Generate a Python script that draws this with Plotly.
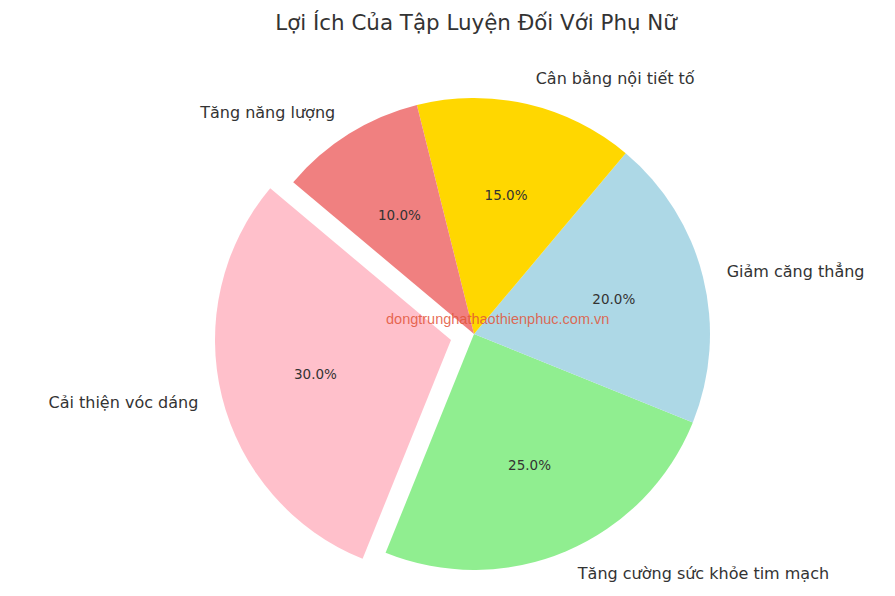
import plotly.graph_objects as go

labels = ["Cải thiện vóc dáng", "Tăng cường sức khỏe tim mạch", "Giảm căng thẳng",
          "Cân bằng nội tiết tố", "Tăng năng lượng"]
values = [30, 25, 20, 15, 10]
colors = ["#FFC0CB", "#90EE90", "#ADD8E6", "#FFD700", "#F08080"]
exploded = [True, False, False, False, False]

# ---- layout / style settings (not data) ----
W, H = 895, 596
R = 236            # pie radius, px
CX, CY = 466, 326  # pie centre, px (page coordinates minus body margin)
OFF = (-23, 6)     # offset of the exploded slice, px
LABEL_EXTRA = [19.5, 15, 19.5, 17, 17]      # extra radius for outside label placement, px
PCT_SCALE = [1.07, 1.03, 0.97, 0.88, 0.78]  # radius scale for percent-text placement
clear = "rgba(0,0,0,0)"


def domain(cx, cy, r):
    return dict(x=[(cx - r) / W, (cx + r) / W], y=[1 - (cy + r) / H, 1 - (cy - r) / H])


def centre(i):
    return (CX + OFF[0], CY + OFF[1]) if exploded[i] else (CX, CY)


common = dict(labels=labels, values=values, sort=False, direction="counterclockwise",
              rotation=-158, showlegend=False)

fig = go.Figure()
# coloured slices: the base pie and the exploded slice
for sel in ([not e for e in exploded], exploded):
    i0 = sel.index(True)
    fig.add_trace(go.Pie(
        **common, domain=domain(*centre(i0), R),
        marker=dict(colors=[c if s else clear for c, s in zip(colors, sel)], line=dict(width=0)),
        textinfo="none", hoverinfo="label+percent",
    ))

# texts: percentages inside, labels outside
for i in range(len(values)):
    cx, cy = centre(i)
    fig.add_trace(go.Pie(
        **common, domain=domain(cx, cy, R * PCT_SCALE[i]),
        marker=dict(colors=[clear] * len(values), line=dict(width=0)),
        texttemplate=["%{percent:.1%}" if j == i else "" for j in range(len(values))],
        textposition="inside", insidetextorientation="horizontal",
        textfont=dict(family="DejaVu Sans", size=13.5, color="#333333"),
        hoverinfo="skip",
    ))
    fig.add_trace(go.Pie(
        **common, domain=domain(cx, cy, R + LABEL_EXTRA[i]),
        marker=dict(colors=[clear] * len(values), line=dict(width=0)),
        texttemplate=["%{label}" if j == i else "" for j in range(len(values))],
        textposition="outside",
        outsidetextfont=dict(family="DejaVu Sans", size=16, color="#333333"),
        hoverinfo="skip",
    ))

fig.add_annotation(
    text="dongtrunghathaothienphuc.com.vn", x=0.547, y=0.478, xref="paper", yref="paper",
    showarrow=False, font=dict(family="Liberation Sans", size=14.5, color="rgba(226,84,56,0.85)"),
)
fig.update_layout(
    width=W, height=H,
    margin=dict(l=0, r=0, t=0, b=0),
    paper_bgcolor="white", plot_bgcolor="white",
    title=dict(text="Lợi Ích Của Tập Luyện Đối Với Phụ Nữ", x=0.523, xanchor="center",
               y=0.975, yanchor="middle",
               font=dict(family="DejaVu Sans", size=21.4, color="#333333")),
)
fig.write_html("out.html")
